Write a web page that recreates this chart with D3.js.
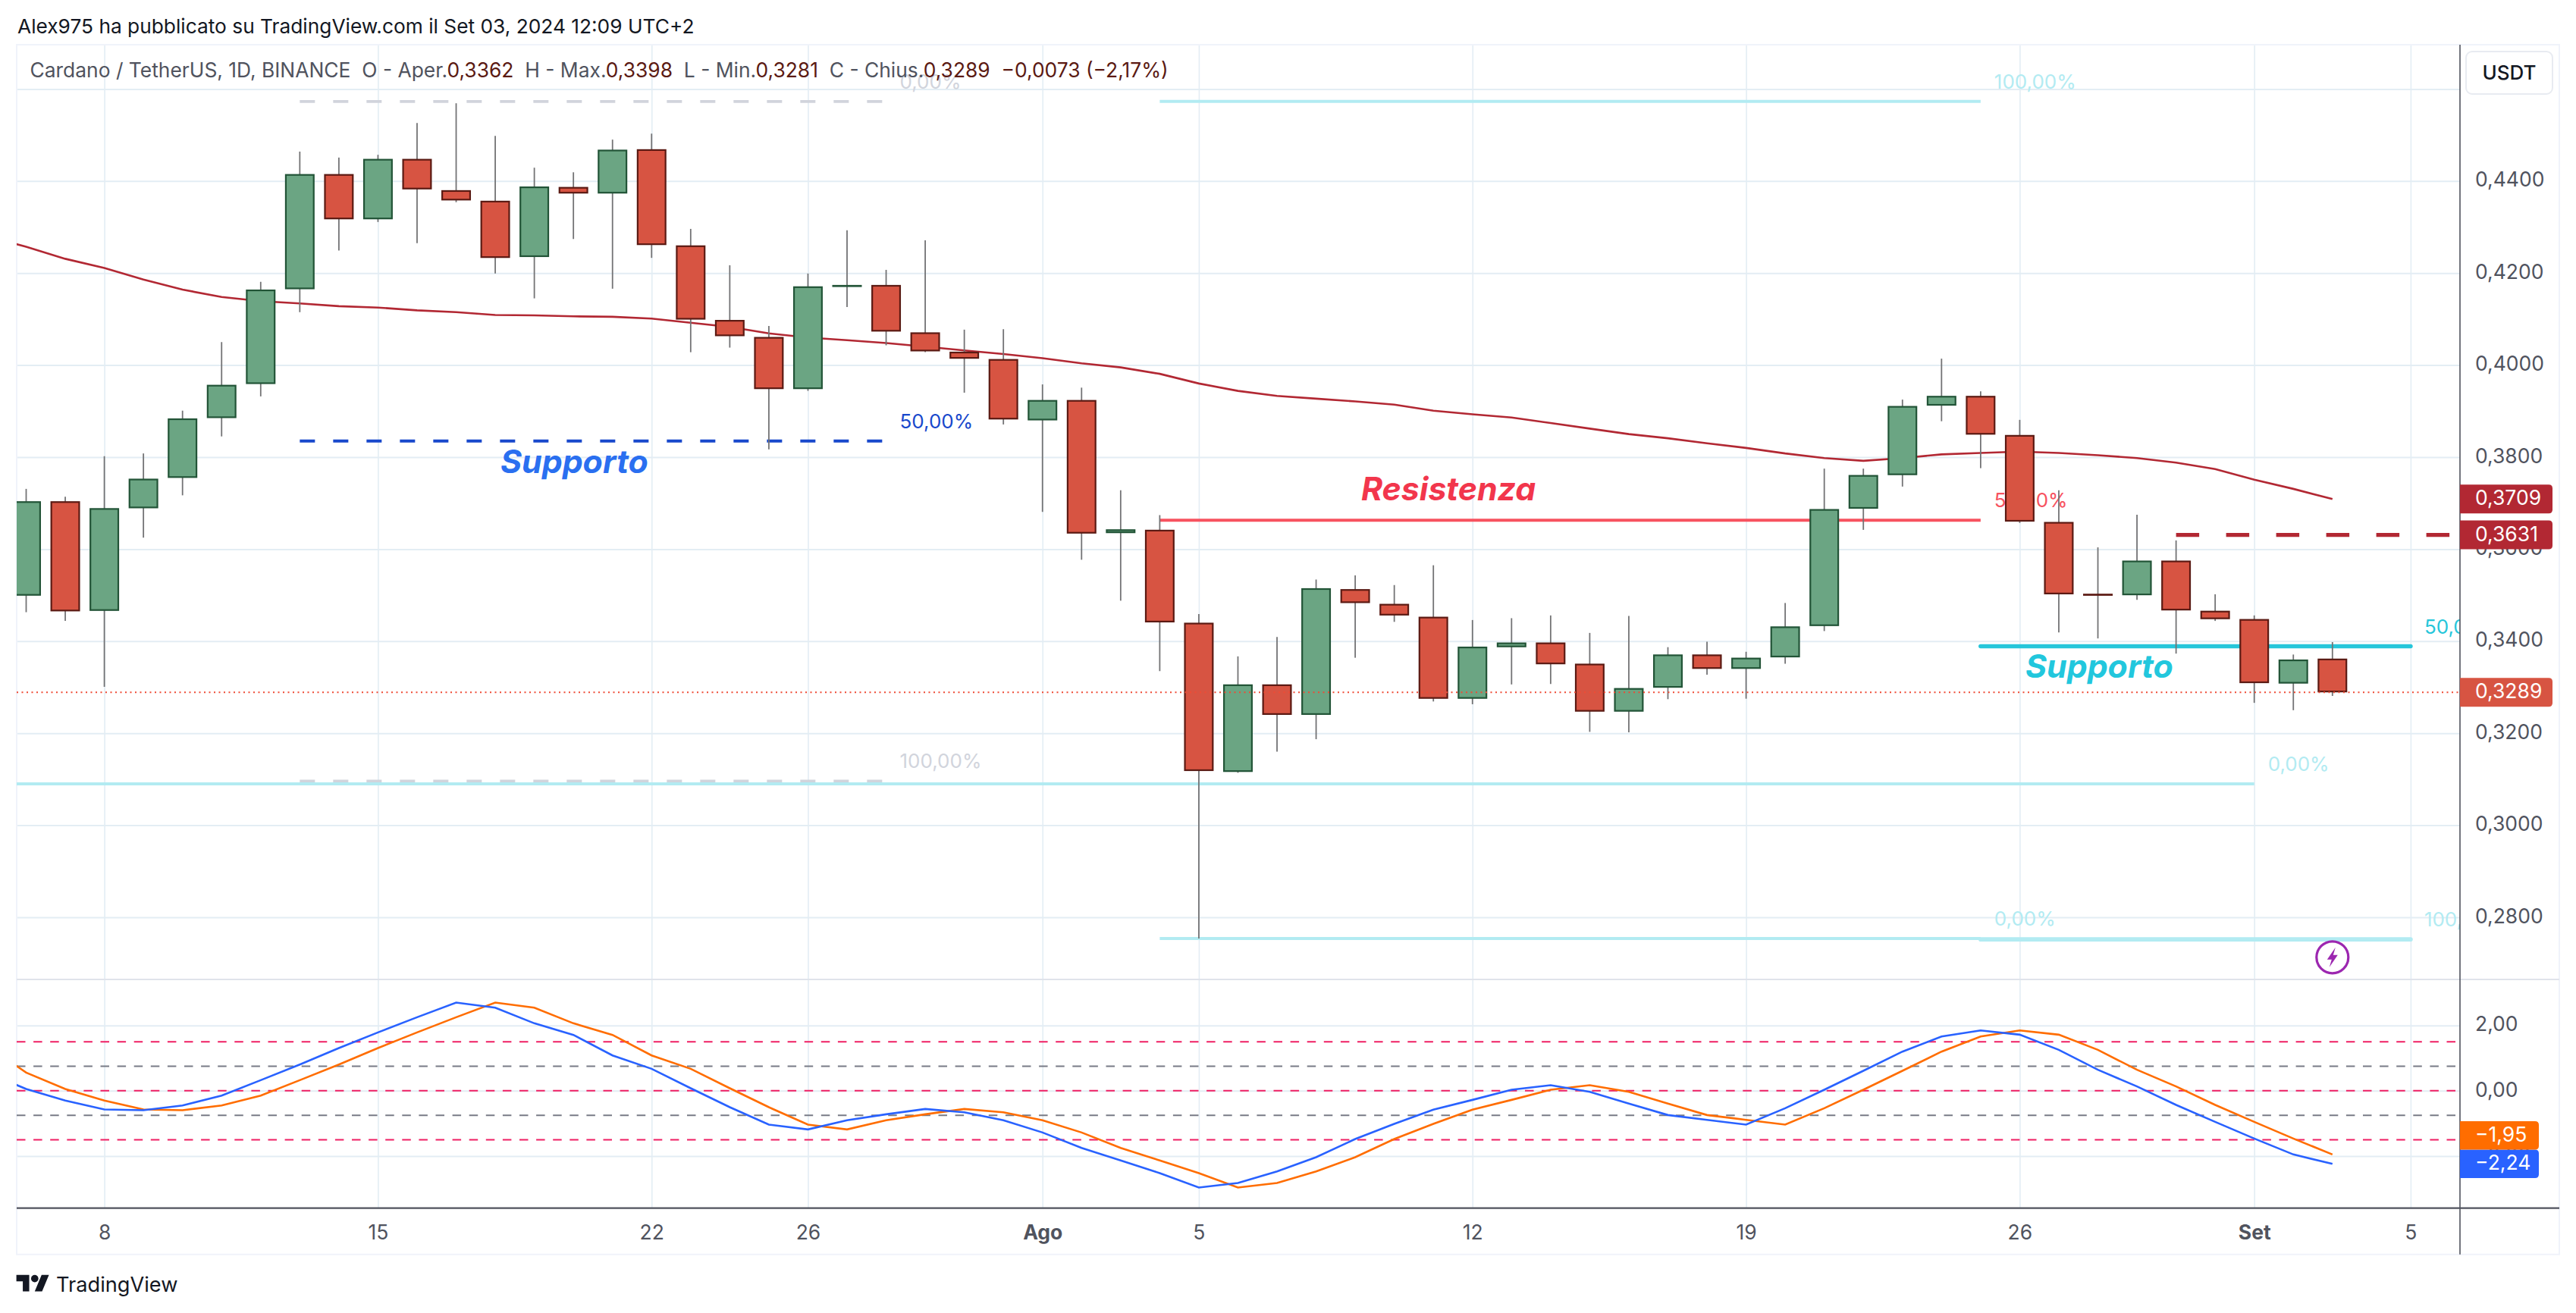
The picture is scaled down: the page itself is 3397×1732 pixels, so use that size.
<!DOCTYPE html>
<html>

<head>
    <meta charset="utf-8">
    <title>Cardano / TetherUS</title>
    <script src="https://cdn.jsdelivr.net/npm/d3@7"></script>
    <style>
        body { margin: 0; background: #fff; }
        svg { display: block; }
        text { font-family: Inter, "Noto Sans", sans-serif; white-space: pre; }
    </style>
</head>

<body>
    <svg width="3397" height="1732" id="mainsvg"></svg>
    <script>
        // daily candles, values
        const days = ['2024-07-06', '2024-07-07', '2024-07-08', '2024-07-09', '2024-07-10', '2024-07-11', '2024-07-12', '2024-07-13', '2024-07-14', '2024-07-15',
            '2024-07-16', '2024-07-17', '2024-07-18', '2024-07-19', '2024-07-20', '2024-07-21', '2024-07-22', '2024-07-23', '2024-07-24', '2024-07-25',
            '2024-07-26', '2024-07-27', '2024-07-28', '2024-07-29', '2024-07-30', '2024-07-31', '2024-08-01', '2024-08-02', '2024-08-03', '2024-08-04',
            '2024-08-05', '2024-08-06', '2024-08-07', '2024-08-08', '2024-08-09', '2024-08-10', '2024-08-11', '2024-08-12', '2024-08-13', '2024-08-14',
            '2024-08-15', '2024-08-16', '2024-08-17', '2024-08-18', '2024-08-19', '2024-08-20', '2024-08-21', '2024-08-22', '2024-08-23', '2024-08-24',
            '2024-08-25', '2024-08-26', '2024-08-27', '2024-08-28', '2024-08-29', '2024-08-30', '2024-08-31', '2024-09-01', '2024-09-02', '2024-09-03'];
        const opens = [0.3499, 0.3704, 0.3466, 0.3689, 0.3755, 0.3885, 0.3959, 0.4165, 0.4415, 0.4317,
            0.4448, 0.4380, 0.4357, 0.4235, 0.4387, 0.4373, 0.4469, 0.4260, 0.4098, 0.4061,
            0.3948, 0.4173, 0.4174, 0.4071, 0.4029, 0.4013, 0.3880, 0.3924, 0.3635, 0.3642,
            0.3440, 0.3116, 0.3306, 0.3240, 0.3513, 0.3481, 0.3453, 0.3275, 0.3387, 0.3397,
            0.3351, 0.3247, 0.3299, 0.3371, 0.3340, 0.3365, 0.3433, 0.3688, 0.3761, 0.3912,
            0.3933, 0.3848, 0.3659, 0.3503, 0.3500, 0.3575, 0.3466, 0.3448, 0.3308, 0.3362];
        const highs = [0.3731, 0.3714, 0.3802, 0.3808, 0.3901, 0.4050, 0.4181, 0.4464, 0.4451, 0.4457,
            0.4526, 0.4569, 0.4498, 0.4429, 0.4419, 0.4490, 0.4503, 0.4296, 0.4217, 0.4085,
            0.4199, 0.4293, 0.4207, 0.4271, 0.4077, 0.4078, 0.3958, 0.3951, 0.3728, 0.3674,
            0.3459, 0.3367, 0.3409, 0.3534, 0.3543, 0.3522, 0.3565, 0.3446, 0.3450, 0.3456,
            0.3418, 0.3455, 0.3387, 0.3399, 0.3377, 0.3483, 0.3775, 0.3775, 0.3925, 0.4014,
            0.3943, 0.3881, 0.3728, 0.3604, 0.3675, 0.3619, 0.3502, 0.3456, 0.3371, 0.3398];
        const lows = [0.3463, 0.3444, 0.3301, 0.3625, 0.3717, 0.3845, 0.3932, 0.4115, 0.4249, 0.4311,
            0.4265, 0.4354, 0.4199, 0.4145, 0.4274, 0.4166, 0.4233, 0.4028, 0.4038, 0.3817,
            0.3944, 0.4126, 0.4043, 0.4028, 0.3940, 0.3871, 0.3681, 0.3577, 0.3488, 0.3335,
            0.2754, 0.3114, 0.3160, 0.3187, 0.3364, 0.3442, 0.3269, 0.3263, 0.3306, 0.3307,
            0.3203, 0.3202, 0.3274, 0.3327, 0.3275, 0.3351, 0.3422, 0.3642, 0.3736, 0.3878,
            0.3776, 0.3657, 0.3419, 0.3406, 0.3490, 0.3373, 0.3444, 0.3266, 0.3250, 0.3281];
        const closes = [0.3704, 0.3465, 0.3689, 0.3753, 0.3884, 0.3957, 0.4164, 0.4415, 0.4317, 0.4448,
            0.4382, 0.4358, 0.4233, 0.4388, 0.4373, 0.4468, 0.4261, 0.4099, 0.4063, 0.3948,
            0.4171, 0.4174, 0.4073, 0.4030, 0.4014, 0.3882, 0.3924, 0.3634, 0.3643, 0.3441,
            0.3118, 0.3306, 0.3240, 0.3515, 0.3483, 0.3456, 0.3275, 0.3388, 0.3397, 0.3350,
            0.3247, 0.3298, 0.3371, 0.3340, 0.3364, 0.3432, 0.3687, 0.3761, 0.3911, 0.3933,
            0.3849, 0.3660, 0.3502, 0.3502, 0.3575, 0.3467, 0.3448, 0.3309, 0.3360, 0.3289];

        // lines start one day earlier, they come in from the left edge of the pane
        const lineDays = ['2024-07-05'].concat(days);
        const maValues = [0.4281, 0.4257, 0.4231, 0.4211, 0.4186, 0.4164, 0.4148, 0.4139, 0.4134, 0.4128, 0.4125,
            0.4119, 0.4115, 0.4109, 0.4108, 0.4106, 0.4105, 0.4101, 0.4092, 0.4083, 0.4069,
            0.4060, 0.4054, 0.4048, 0.4040, 0.4032, 0.4024, 0.4015, 0.4004, 0.3995, 0.3981,
            0.3960, 0.3944, 0.3933, 0.3927, 0.3921, 0.3914, 0.3901, 0.3893, 0.3886, 0.3874,
            0.3862, 0.3850, 0.3841, 0.3830, 0.3820, 0.3808, 0.3798, 0.3792, 0.3798, 0.3806,
            0.3809, 0.3812, 0.3809, 0.3804, 0.3798, 0.3788, 0.3774, 0.3751, 0.3731, 0.3709];
        const oscBlue = [0.557, 0.054, -0.302, -0.573, -0.596, -0.449, -0.147, 0.325, 0.805, 1.308, 1.787,
            2.251, 2.700, 2.545, 2.066, 1.710, 1.083, 0.673, 0.077, -0.503, -1.037,
            -1.184, -0.905, -0.720, -0.557, -0.658, -0.905, -1.277, -1.749, -2.135, -2.522,
            -2.963, -2.824, -2.468, -2.035, -1.478, -1.014, -0.580, -0.279, 0.031, 0.170,
            -0.031, -0.395, -0.743, -0.890, -1.037, -0.534, 0.031, 0.611, 1.199, 1.663,
            1.849, 1.718, 1.253, 0.642, 0.132, -0.433, -0.952, -1.462, -1.950, -2.240];
        const oscOrange = [1.377, 0.557, 0.054, -0.302, -0.573, -0.596, -0.449, -0.147, 0.325, 0.805, 1.308,
            1.787, 2.251, 2.700, 2.545, 2.066, 1.710, 1.083, 0.673, 0.077, -0.503,
            -1.037, -1.184, -0.905, -0.720, -0.557, -0.658, -0.905, -1.277, -1.749, -2.135,
            -2.522, -2.963, -2.824, -2.468, -2.035, -1.478, -1.014, -0.580, -0.279, 0.031,
            0.170, -0.031, -0.395, -0.743, -0.890, -1.037, -0.534, 0.031, 0.611, 1.199,
            1.663, 1.849, 1.718, 1.253, 0.642, 0.132, -0.433, -0.952, -1.462, -1.950];
        const oscRedLevels = [1.5, 0, -1.5];
        const oscGreyLevels = [0.75, -0.75];

        const priceTicks = [0.46, 0.44, 0.42, 0.40, 0.38, 0.36, 0.34, 0.32, 0.30, 0.28];
        const oscTicks = [2, 0, -2];
        const tickDays = ['2024-07-08', '2024-07-15', '2024-07-22', '2024-07-26', '2024-08-01', '2024-08-05', '2024-08-12', '2024-08-19', '2024-08-26', '2024-09-01', '2024-09-05'];
        const tickLabels = ['8', '15', '22', '26', 'Ago', '5', '12', '19', '26', 'Set', '5'];
        const boldLabels = ['Ago', 'Set'];

        const lastClose = 0.3289;
        const lastMa = 0.3709;
        const dashedRedLevel = 0.3631;

        const svg = d3.select('svg');
        const plot = { left: 22, right: 3244, top: 59, split: 1292, bottom: 1593.7, edge: 3375, foot: 1654.7 };

        const parse = d3.utcParse('%Y-%m-%d');
        const xScale = d3.scaleUtc().domain([parse('2024-07-08'), parse('2024-09-03')]).range([137.6, 3075.8]);
        const yScale = d3.scaleLinear().domain([0.44, 0.28]).range([238.8, 1210]);
        const oscScale = d3.scaleLinear().domain([2, -2]).range([1352.7, 1525]);
        const xOf = s => xScale(parse(s));

        const locale = d3.formatLocale({ decimal: ',', thousands: '.', grouping: [3], currency: ['', ''] });
        const fmtPrice = locale.format('.4f');
        const fmtOsc = locale.format('.2f');

        const gridColor = '#e3edf4', axisColor = '#50535e', labelSize = 26.5;

        const defs = svg.append('defs');
        defs.append('clipPath').attr('id', 'priceClip').append('rect')
            .attr('x', plot.left).attr('y', plot.top).attr('width', plot.right - plot.left).attr('height', plot.split - plot.top);
        defs.append('clipPath').attr('id', 'oscClip').append('rect')
            .attr('x', plot.left).attr('y', plot.split).attr('width', plot.right - plot.left).attr('height', plot.bottom - plot.split);

        // frame and grid
        const grid = svg.append('g');
        const xGrid = grid.append('g').attr('transform', `translate(0, ${plot.bottom})`)
            .call(d3.axisBottom(xScale).tickValues(tickDays.map(parse)).tickSize(plot.top - plot.bottom).tickFormat(''));
        xGrid.select('.domain').remove();
        xGrid.selectAll('line').attr('stroke', gridColor).attr('stroke-width', 1.6);
        const yGrid = grid.append('g').attr('transform', `translate(${plot.right}, 0)`)
            .call(d3.axisLeft(yScale).tickValues(priceTicks).tickSize(plot.right - plot.left).tickFormat(''));
        yGrid.select('.domain').remove();
        yGrid.selectAll('line').attr('stroke', gridColor).attr('stroke-width', 2);
        const oGrid = grid.append('g').attr('transform', `translate(${plot.right}, 0)`)
            .call(d3.axisLeft(oscScale).tickValues(oscTicks).tickSize(plot.right - plot.left).tickFormat(''));
        oGrid.select('.domain').remove();
        oGrid.selectAll('line').attr('stroke', gridColor).attr('stroke-width', 2);

        grid.append('rect').attr('x', plot.left).attr('y', plot.top)
            .attr('width', plot.edge - plot.left).attr('height', plot.foot - plot.top)
            .attr('fill', 'none').attr('stroke', '#f0f3fa').attr('stroke-width', 2);

        // price pane: drawings sit under the candles
        const pricePane = svg.append('g').attr('clip-path', 'url(#priceClip)');

        function level(from, to, price, color, width, dash, cap) {
            pricePane.append('line')
                .attr('x1', xOf(from)).attr('x2', xOf(to))
                .attr('y1', yScale(price)).attr('y2', yScale(price))
                .attr('stroke', color).attr('stroke-width', width)
                .attr('stroke-dasharray', dash || null)
                .attr('stroke-linecap', cap || 'butt');
        }
        function levelLabel(day, price, txt, color) {
            pricePane.append('text')
                .attr('x', xOf(day) + 18).attr('y', yScale(price) - 26).attr('dy', '0.35em')
                .attr('font-size', 26).attr('fill', color).text(txt);
        }
        function noteLabel(x, y, txt, color) {
            pricePane.append('text').attr('x', x).attr('y', y).attr('dy', '0.35em')
                .attr('font-size', 42.8).attr('font-weight', 700).attr('font-style', 'italic')
                .attr('fill', color).text(txt);
        }

        // left fib, dashed
        level('2024-07-13', '2024-07-28', 0.4573, '#d1d4dc', 3.8, '20 24');
        level('2024-07-13', '2024-07-28', 0.3835, '#1848cc', 3.8, '20 24');
        level('2024-07-13', '2024-07-28', 0.3096, '#d1d4dc', 3.8, '20 24');
        levelLabel('2024-07-28', 0.4573, '0,00%', '#d1d4dc');
        levelLabel('2024-07-28', 0.3835, '50,00%', '#1848cc');
        levelLabel('2024-07-28', 0.3096, '100,00%', '#d1d4dc');
        // middle fib
        level('2024-08-04', '2024-08-25', 0.4573, '#b2ebf2', 4);
        level('2024-08-04', '2024-08-25', 0.3663, '#f7525f', 4);
        level('2024-08-04', '2024-08-25', 0.2754, '#b2ebf2', 4);
        levelLabel('2024-08-25', 0.4573, '100,00%', '#b2ebf2');
        levelLabel('2024-08-25', 0.3663, '50,00%', '#f7525f');
        levelLabel('2024-08-25', 0.2754, '0,00%', '#b2ebf2');
        // long level from the left
        level('2024-07-01', '2024-09-01', 0.3090, '#b2ebf2', 4);
        levelLabel('2024-09-01', 0.3090, '0,00%', '#b2ebf2');
        // right fib
        level('2024-08-25', '2024-09-05', 0.3389, '#26c6da', 5.6, null, 'round');
        level('2024-08-25', '2024-09-05', 0.2752, '#b2ebf2', 5.6, null, 'round');
        levelLabel('2024-09-05', 0.3389, '50,00%', '#26c6da');
        levelLabel('2024-09-05', 0.2752, '100,00%', '#b2ebf2');

        noteLabel(660, 609, 'Supporto', '#2a6ff0');
        noteLabel(1795, 645, 'Resistenza', '#f2364c');
        noteLabel(2671, 879, 'Supporto', '#22c7dd');

        // moving average
        pricePane.append('path')
            .attr('d', d3.line().x(d => xOf(d.day)).y(d => yScale(d.v))(lineDays.map((day, i) => ({ day, v: maValues[i] }))))
            .attr('fill', 'none').attr('stroke', '#b22833').attr('stroke-width', 2.6);
        pricePane.append('line')
            .attr('x1', xOf('2024-08-30')).attr('x2', plot.right)
            .attr('y1', yScale(dashedRedLevel)).attr('y2', yScale(dashedRedLevel))
            .attr('stroke', '#b22833').attr('stroke-width', 5.2).attr('stroke-dasharray', '30.5 35.5');

        // candles
        const candles = days.map((day, i) => ({ day, o: opens[i], h: highs[i], l: lows[i], c: closes[i] }));
        const isUp = d => d.c >= d.o;
        pricePane.selectAll('line.wick').data(candles).join('line').attr('class', 'wick')
            .attr('x1', d => xOf(d.day)).attr('x2', d => xOf(d.day))
            .attr('y1', d => yScale(d.h)).attr('y2', d => yScale(d.l))
            .attr('stroke', '#737375').attr('stroke-width', 1.8);
        pricePane.selectAll('rect.body').data(candles).join('rect').attr('class', 'body')
            .attr('x', d => xOf(d.day) - 18.4).attr('width', 36.8)
            .attr('y', d => yScale(Math.max(d.o, d.c)) + 1)
            .attr('height', d => Math.max(yScale(Math.min(d.o, d.c)) - yScale(Math.max(d.o, d.c)) - 2, 0.5))
            .attr('fill', d => isUp(d) ? '#6ba583' : '#d75442')
            .attr('stroke', d => isUp(d) ? '#225437' : '#5b1a13')
            .attr('stroke-width', 2.2);

        // last price dotted line goes over the candles
        pricePane.append('line')
            .attr('x1', plot.left).attr('x2', plot.right)
            .attr('y1', yScale(lastClose)).attr('y2', yScale(lastClose))
            .attr('stroke', '#ef4b35').attr('stroke-width', 2).attr('stroke-dasharray', '2 4.5');

        // purple marker under the last candle
        const marker = pricePane.append('g')
            .attr('transform', `translate(${xOf('2024-09-03')}, ${yScale(0.2713)})`);
        marker.append('circle').attr('r', 21).attr('fill', '#fff').attr('stroke', '#9c27b0').attr('stroke-width', 3.2);
        marker.append('path').attr('d', 'M4 -13 L-7 3 L-1 3 L-4 13 L7 -3 L1 -3 Z').attr('fill', '#9c27b0');

        // oscillator pane
        const oscPane = svg.append('g').attr('clip-path', 'url(#oscClip)');
        oscPane.selectAll('line.red').data(oscRedLevels).join('line').attr('class', 'red')
            .attr('x1', plot.left).attr('x2', plot.right)
            .attr('y1', d => oscScale(d)).attr('y2', d => oscScale(d))
            .attr('stroke', '#ef1f63').attr('stroke-width', 2).attr('stroke-dasharray', '11.5 10.6');
        oscPane.selectAll('line.grey').data(oscGreyLevels).join('line').attr('class', 'grey')
            .attr('x1', plot.left).attr('x2', plot.right)
            .attr('y1', d => oscScale(d)).attr('y2', d => oscScale(d))
            .attr('stroke', '#787b86').attr('stroke-width', 2).attr('stroke-dasharray', '11.5 10.6');
        const oscLine = d3.line().x(d => xOf(d.day)).y(d => oscScale(d.v));
        oscPane.append('path').attr('d', oscLine(lineDays.map((day, i) => ({ day, v: oscOrange[i] }))))
            .attr('fill', 'none').attr('stroke', '#ff6d00').attr('stroke-width', 2.6);
        oscPane.append('path').attr('d', oscLine(lineDays.map((day, i) => ({ day, v: oscBlue[i] }))))
            .attr('fill', 'none').attr('stroke', '#2962ff').attr('stroke-width', 2.6);

        // separators and axes
        svg.append('line').attr('x1', plot.left).attr('x2', plot.edge).attr('y1', plot.split).attr('y2', plot.split)
            .attr('stroke', '#e0e3eb').attr('stroke-width', 2);
        svg.append('line').attr('x1', plot.left).attr('x2', plot.edge).attr('y1', plot.bottom).attr('y2', plot.bottom)
            .attr('stroke', axisColor).attr('stroke-width', 2.2);
        svg.append('line').attr('x1', plot.right).attr('x2', plot.right).attr('y1', plot.top).attr('y2', plot.foot)
            .attr('stroke', axisColor).attr('stroke-width', 1.6);

        const styleAxis = g => {
            g.select('.domain').remove();
            g.selectAll('.tick line').remove();
            g.selectAll('.tick text')
                .attr('font-size', labelSize).attr('fill', axisColor)
                .style('font-family', 'Inter, "Noto Sans", sans-serif');
        };
        const priceAxis = svg.append('g').attr('transform', `translate(${plot.right + 20}, 0)`)
            .call(d3.axisRight(yScale).tickValues(priceTicks.slice(1)).tickSize(0).tickPadding(0).tickFormat(fmtPrice))
            .call(styleAxis);
        const oscAxis = svg.append('g').attr('transform', `translate(${plot.right + 20}, 0)`)
            .call(d3.axisRight(oscScale).tickValues(oscTicks).tickSize(0).tickPadding(0).tickFormat(fmtOsc))
            .call(styleAxis);
        priceAxis.selectAll('.tick text').attr('dy', '0.27em');
        oscAxis.selectAll('.tick text').attr('dy', '0.27em');
        const timeAxis = svg.append('g').attr('transform', `translate(0, ${plot.bottom + 32})`)
            .call(d3.axisBottom(xScale).tickValues(tickDays.map(parse)).tickSize(0).tickPadding(0).tickFormat((d, i) => tickLabels[i]))
            .call(styleAxis);
        timeAxis.selectAll('.tick text').attr('dy', '0.35em')
            .attr('font-weight', (d, i) => boldLabels.includes(tickLabels[i]) ? 700 : 400);

        // value badges on the right scale
        function badge(cy, h, w, fill, txt) {
            const x = plot.right, y = cy - h / 2, r = 5;
            svg.append('path')
                .attr('d', `M${x} ${y}H${x + w - r}Q${x + w} ${y} ${x + w} ${y + r}V${y + h - r}Q${x + w} ${y + h} ${x + w - r} ${y + h}H${x}Z`)
                .attr('fill', fill);
            svg.append('text').attr('x', x + 20).attr('y', cy).attr('dy', '0.3em')
                .attr('font-size', labelSize).attr('fill', '#fff').text(txt);
        }
        badge(yScale(lastMa), 38, 122, '#b22833', fmtPrice(lastMa));
        badge(yScale(dashedRedLevel), 38, 122, '#b22833', fmtPrice(dashedRedLevel));
        badge(yScale(lastClose), 38, 122, '#d75442', fmtPrice(lastClose));
        const lastBlue = oscBlue[oscBlue.length - 1], lastOrange = oscOrange[oscOrange.length - 1];
        badge(oscScale(lastBlue), 37.5, 104, '#2962ff', fmtOsc(lastBlue));
        badge(oscScale(lastBlue) - 37.5, 37.5, 104, '#ff6d00', fmtOsc(lastOrange));

        // USDT button
        svg.append('rect').attr('x', 3252).attr('y', 68).attr('width', 114).attr('height', 56).attr('rx', 8)
            .attr('fill', '#fff').attr('stroke', '#e8ebf1').attr('stroke-width', 2);
        svg.append('text').attr('x', 3309).attr('y', 96).attr('dy', '0.35em').attr('text-anchor', 'middle')
            .attr('font-size', 26).attr('font-weight', 500).attr('fill', '#131722').text('USDT');

        // header and legend
        svg.append('text').attr('x', 23).attr('y', 35).attr('dy', '0.35em')
            .attr('font-size', 26.3).attr('fill', '#131722')
            .text('Alex975 ha pubblicato su TradingView.com il Set 03, 2024 12:09 UTC+2');
        const legendParts = ['Cardano / TetherUS, 1D, BINANCE  O - Aper.', '0,3362', '  H - Max.', '0,3398', '  L - Min.', '0,3281', '  C - Chius.', '0,3289', '  \u22120,0073 (\u22122,17%)'];
        svg.append('text').attr('x', 39.5).attr('y', 93).attr('dy', '0.35em').attr('font-size', 26.4)
            .selectAll('tspan').data(legendParts).join('tspan')
            .attr('fill', (d, i) => i % 2 ? '#5b1a13' : (i === 8 ? '#5b1a13' : axisColor))
            .text(d => d);

        // logo
        const logo = svg.append('g').attr('transform', 'translate(21.6, 1677) scale(1.21)').attr('fill', '#131722');
        logo.append('path').attr('d', 'M14 22H7V11H0V4h14v18zM28 22h-8l7.5-18h8L28 22z');
        logo.append('circle').attr('cx', 20).attr('cy', 8).attr('r', 4);
        svg.append('text').attr('x', 74).attr('y', 1694).attr('dy', '0.35em')
            .attr('font-size', 27.2).attr('font-weight', 400).attr('fill', '#131722').text('TradingView');
    </script>
</body>

</html>
